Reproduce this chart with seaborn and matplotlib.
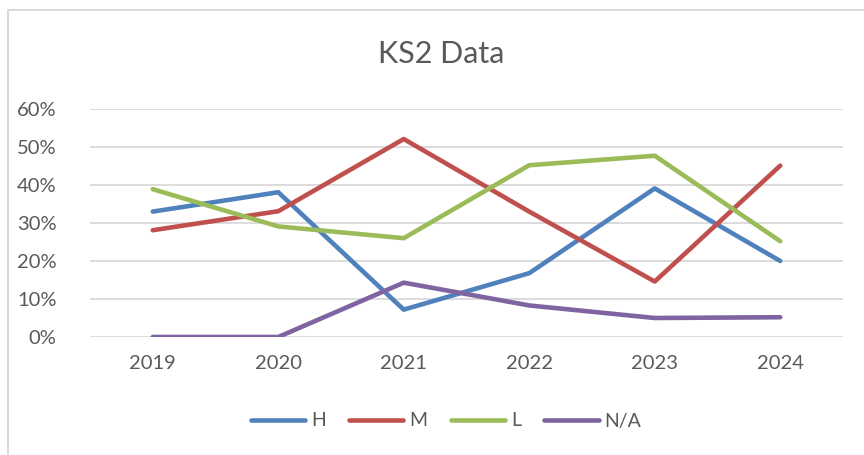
import pandas as pd
import matplotlib.pyplot as plt
import seaborn as sns
from matplotlib.lines import Line2D

# values
years = [2019, 2020, 2021, 2022, 2023, 2024]
h_vals = [0.33, 0.381, 0.072, 0.168, 0.391, 0.20]
m_vals = [0.281, 0.331, 0.521, 0.33, 0.146, 0.451]
l_vals = [0.389, 0.291, 0.26, 0.452, 0.477, 0.252]
na_vals = [0.0, 0.0, 0.143, 0.083, 0.05, 0.052]
series_names = ['H', 'M', 'L', 'N/A']
colors = ['#4F81BD', '#C0504D', '#9BBB59', '#8064A2']

df = pd.DataFrame({
    'Year': years * 4,
    'Share': h_vals + m_vals + l_vals + na_vals,
    'Group': [n for n in series_names for _ in years],
})

sns.set_style('white')
plt.rcParams['font.family'] = ['Lato', 'DejaVu Sans']
text_col = '#595959'

fig = plt.figure(figsize=(8.64, 4.55), dpi=100)
ax = fig.add_axes([90 / 864, 1 - 337 / 455, (843 - 90) / 864, (337 - 109) / 455])

sns.lineplot(data=df, x='Year', y='Share', hue='Group', hue_order=series_names,
             palette=colors, linewidth=3.3, ax=ax, legend=False,
             solid_capstyle='round', solid_joinstyle='round')

ax.set_xlim(2018.5, 2024.5)
ax.set_ylim(0, 0.6)
ax.set_yticks([0, 0.1, 0.2, 0.3, 0.4, 0.5, 0.6])
ax.set_yticklabels([f'{int(round(v * 100))}%' for v in ax.get_yticks()])
ax.set_xticks(years)
ax.set_xticklabels([str(y) for y in years])
ax.tick_params(axis='both', length=0, labelsize=14.5, labelcolor=text_col)
ax.tick_params(axis='y', pad=24)
ax.tick_params(axis='x', pad=13)
ax.yaxis.grid(True, color='#D9D9D9', linewidth=1.3)
ax.set_axisbelow(True)
for s in ax.spines.values():
    s.set_visible(False)
ax.set_xlabel('')
ax.set_ylabel('')

fig.text(441 / 864, 1 - 54 / 455, 'KS2 Data', ha='center', va='center',
         fontsize=22, color=text_col)

handles = [Line2D([0], [0], color=c, linewidth=3.3, solid_capstyle='round')
           for c in colors]
leg = fig.legend(handles, series_names, loc='center', ncol=4,
                 bbox_to_anchor=(446 / 864, 1 - 421 / 455), frameon=False,
                 fontsize=14, handlelength=2.8, handletextpad=0.3,
                 columnspacing=1.2)
for t in leg.get_texts():
    t.set_color(text_col)

# chart area border (top and left visible in the crop)
fig.add_artist(Line2D([8 / 864, 8 / 864], [0, 1 - 10 / 455], color='#D9D9D9',
                      linewidth=1.5, transform=fig.transFigure))
fig.add_artist(Line2D([8 / 864, 1], [1 - 10 / 455, 1 - 10 / 455], color='#D9D9D9',
                      linewidth=1.5, transform=fig.transFigure))

fig.savefig('out.png', dpi=100)
